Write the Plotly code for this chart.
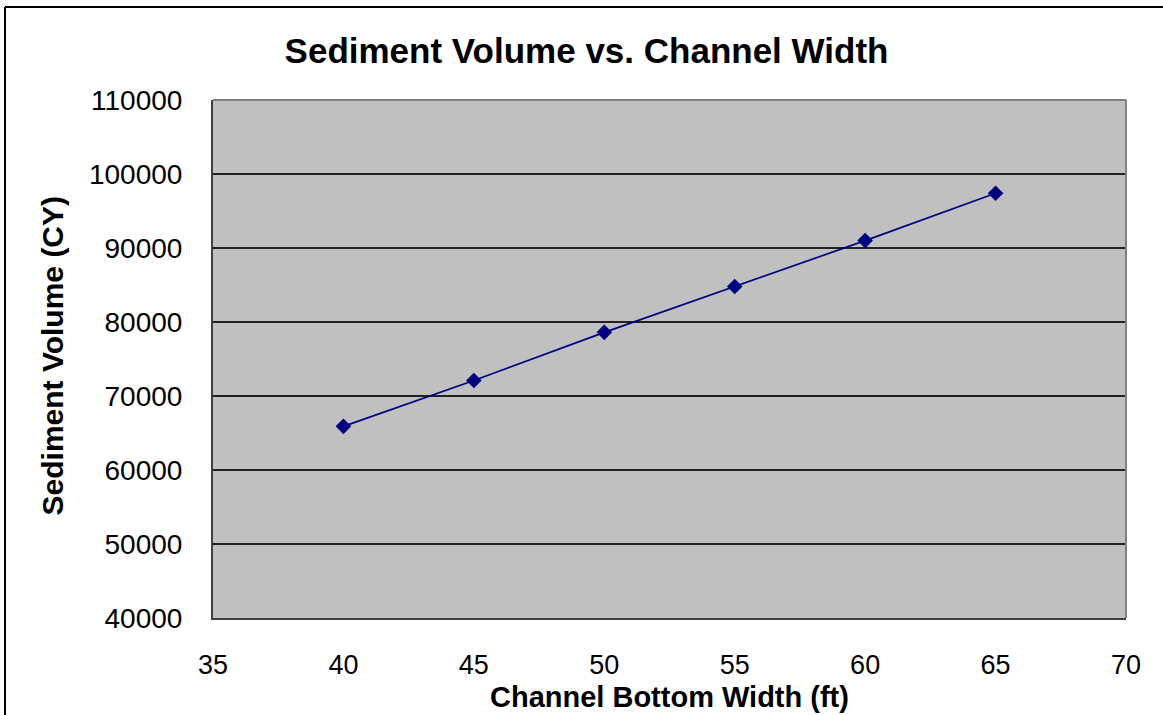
import plotly.graph_objects as go

# Data
channel_width_ft = [40, 45, 50, 55, 60, 65]
sediment_volume_cy = [65900, 72100, 78600, 84800, 91000, 97400]

x_ticks = [35, 40, 45, 50, 55, 60, 65, 70]
y_ticks = [40000, 50000, 60000, 70000, 80000, 90000, 100000, 110000]

title_text = "Sediment Volume vs. Channel Width"
x_title = "Channel Bottom Width (ft)"
y_title = "Sediment Volume (CY)"

FONT = "Liberation Sans, Arial, sans-serif"

fig = go.Figure()
fig.add_trace(go.Scatter(
    x=channel_width_ft, y=sediment_volume_cy,
    mode="lines+markers",
    line=dict(color="#000080", width=1.7),
    marker=dict(symbol="diamond", size=12, color="#000080"),
    showlegend=False,
))

fig.update_layout(
    width=1163, height=715,
    margin=dict(l=213, r=37, t=100, b=97),
    paper_bgcolor="white",
    plot_bgcolor="#C0C0C0",
    font=dict(family=FONT, color="black"),
    title=dict(text="<b>" + title_text + "</b>", x=0.5043, xanchor="center",
               y=0.9287, yanchor="middle", font=dict(size=35, family=FONT, color="black")),
)

fig.update_xaxes(
    range=[35, 70], tickvals=x_ticks, ticktext=[str(v) for v in x_ticks],
    showgrid=False, zeroline=False,
    showline=True, linecolor="#404040", linewidth=2,
    ticks="outside", ticklen=22, tickcolor="rgba(0,0,0,0)",
    tickfont=dict(size=27, family=FONT, color="black"),
)
fig.update_yaxes(
    range=[40000, 110000], tickvals=y_ticks, ticktext=[str(v) for v in y_ticks],
    showgrid=True, gridcolor="#222222", gridwidth=2, zeroline=False,
    showline=True, linecolor="#404040", linewidth=2,
    ticks="outside", ticklen=23, tickcolor="rgba(0,0,0,0)",
    tickfont=dict(size=28, family=FONT, color="black"),
)

# Plot-area top/right border (gray) and outer chart frame (black)
fig.add_shape(type="line", xref="paper", yref="paper", x0=0, x1=1, y0=1, y1=1,
              line=dict(color="#808080", width=2))
fig.add_shape(type="line", xref="paper", yref="paper", x0=1, x1=1, y0=0, y1=1,
              line=dict(color="#808080", width=2))
fig.add_shape(type="line", xref="paper", yref="paper", x0=-0.2278, x1=-0.2278, y0=-1, y1=1.1795,
              line=dict(color="black", width=2))
fig.add_shape(type="line", xref="paper", yref="paper", x0=-0.2278, x1=2, y0=1.1795, y1=1.1795,
              line=dict(color="black", width=2))

fig.add_annotation(text="<b>" + y_title + "</b>", xref="paper", yref="paper",
                   x=-0.1763, y=0.505, xanchor="center", yanchor="middle", textangle=-90,
                   showarrow=False, font=dict(size=30, family=FONT, color="black"))
fig.add_annotation(text="<b>" + x_title + "</b>", xref="paper", yref="paper",
                   x=0.5, y=-0.153, xanchor="center", yanchor="middle",
                   showarrow=False, font=dict(size=29, family=FONT, color="black"))

fig.write_html("out.html", config={"displayModeBar": False},
               post_script="document.body.style.margin='0';")
